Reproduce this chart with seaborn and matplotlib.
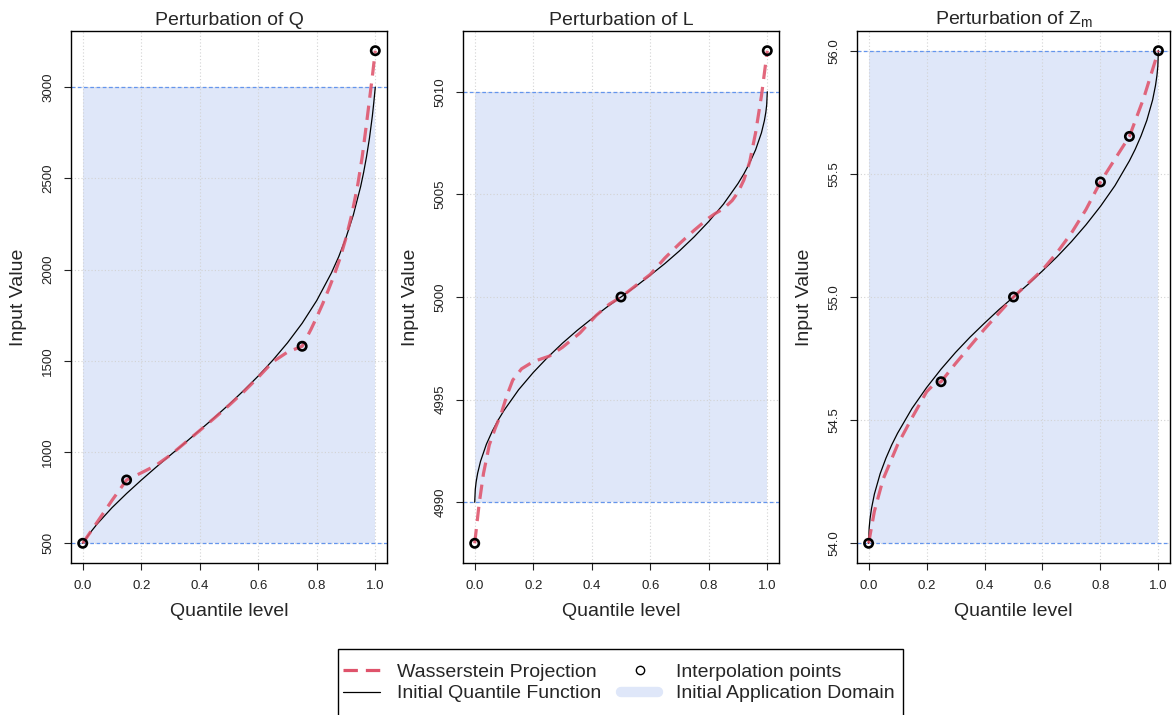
import numpy as np
import seaborn as sns
import matplotlib.pyplot as plt
from matplotlib.lines import Line2D
from matplotlib.patches import Rectangle


# ---- values ----
# Panel Q : initial (truncated) quantile function
Q_levels = [0, 0.025, 0.05, 0.1, 0.15, 0.2, 0.25, 0.3, 0.35, 0.4, 0.45, 0.5, 0.55, 0.6,
            0.65, 0.7, 0.75, 0.8, 0.85, 0.875, 0.9, 0.925, 0.95, 0.96, 0.97, 0.98, 0.99, 0.995, 1.0]
Q_init = [500, 557, 607, 695, 773, 846, 916, 984, 1051, 1120, 1189, 1261, 1337, 1417,
          1504, 1599, 1706, 1831, 1982, 2071, 2176, 2300, 2456, 2532, 2619, 2720, 2843, 2918, 3000]
# Panel Q : Wasserstein projection
Q_proj_levels = [0, 0.05, 0.1, 0.15, 0.2, 0.25, 0.3, 0.35, 0.4, 0.45, 0.5, 0.55, 0.6, 0.65, 0.7,
                 0.75, 0.78, 0.8, 0.82, 0.84, 0.86, 0.88, 0.9, 0.92, 0.94, 0.955, 0.97, 0.98, 0.99, 1.0]
Q_proj = [500, 617, 735, 847, 886, 927, 984, 1051, 1118, 1186, 1256, 1330, 1410, 1495, 1548,
          1580, 1672, 1740, 1812, 1890, 1972, 2065, 2175, 2305, 2465, 2615, 2800, 2930, 3060, 3200]
Q_pts_levels = [0, 0.15, 0.75, 1.0]
Q_pts = [500, 847, 1580, 3200]
Q_domain = [500, 3000]
Q_ticks = [500, 1000, 1500, 2000, 2500, 3000]
Q_ticklabels = ["500", "1000", "1500", "2000", "2500", "3000"]

# Panels L and Zm : initial (triangular) quantile functions
tri_levels = [0, 0.002, 0.005, 0.01, 0.02, 0.04, 0.06, 0.08, 0.1, 0.15, 0.2, 0.25, 0.3, 0.35,
              0.4, 0.45, 0.5, 0.55, 0.6, 0.65, 0.7, 0.75, 0.8, 0.85, 0.9, 0.92, 0.94, 0.96,
              0.98, 0.99, 0.995, 0.998, 1.0]
L_init = [4990, 4990.63, 4991.0, 4991.41, 4992.0, 4992.83, 4993.46, 4994.0, 4994.47, 4995.48,
          4996.32, 4997.07, 4997.75, 4998.37, 4998.94, 4999.49, 5000.0, 5000.51, 5001.06,
          5001.63, 5002.25, 5002.93, 5003.68, 5004.52, 5005.53, 5006.0, 5006.54, 5007.17,
          5008.0, 5008.59, 5009.0, 5009.37, 5010.0]
Zm_init = [54.0, 54.063, 54.1, 54.141, 54.2, 54.283, 54.346, 54.4, 54.447, 54.548, 54.632,
           54.707, 54.775, 54.837, 54.894, 54.949, 55.0, 55.051, 55.106, 55.163, 55.225,
           55.293, 55.368, 55.452, 55.553, 55.6, 55.654, 55.717, 55.8, 55.859, 55.9, 55.937, 56.0]

L_proj_levels = [0, 0.015, 0.03, 0.05, 0.07, 0.09, 0.11, 0.13, 0.16, 0.2, 0.255, 0.3, 0.36,
                 0.415, 0.46, 0.5, 0.55, 0.6, 0.65, 0.7, 0.75, 0.8, 0.82, 0.85, 0.88, 0.9,
                 0.92, 0.94, 0.96, 0.98, 0.99, 1.0]
L_proj = [4988.0, 4989.9, 4991.4, 4992.8, 4993.6, 4994.3, 4995.2, 4995.95, 4996.5, 4996.85,
          4997.12, 4997.55, 4998.25, 4999.1, 4999.65, 5000.0, 5000.55, 5001.1, 5001.9, 5002.6,
          5003.25, 5003.85, 5004.05, 5004.3, 5004.7, 5005.1, 5005.7, 5006.6, 5008.0, 5009.8,
          5010.9, 5012.0]
L_pts_levels = [0, 0.5, 1.0]
L_pts = [4988, 5000, 5012]
L_domain = [4990, 5010]
L_ticks = [4990, 4995, 5000, 5005, 5010]
L_ticklabels = ["4990", "4995", "5000", "5005", "5010"]

Zm_proj_levels = [0, 0.02, 0.05, 0.1, 0.15, 0.2, 0.225, 0.25, 0.3, 0.35, 0.4, 0.45, 0.5, 0.55,
                  0.6, 0.65, 0.7, 0.75, 0.8, 0.85, 0.9, 0.95, 1.0]
Zm_proj = [54.0, 54.13, 54.26, 54.40, 54.51, 54.615, 54.645, 54.656, 54.73, 54.80, 54.87,
           54.935, 55.0, 55.055, 55.11, 55.18, 55.26, 55.355, 55.467, 55.56, 55.652, 55.81, 56.0]
Zm_pts_levels = [0, 0.25, 0.5, 0.8, 0.9, 1.0]
Zm_pts = [54.0, 54.656, 55.0, 55.467, 55.652, 56.0]
Zm_domain = [54, 56]
Zm_ticks = [54.0, 54.5, 55.0, 55.5, 56.0]
Zm_ticklabels = ["54.0", "54.5", "55.0", "55.5", "56.0"]

x_ticks = [0, 0.2, 0.4, 0.6, 0.8, 1.0]
x_ticklabels = ["0.0", "0.2", "0.4", "0.6", "0.8", "1.0"]

titles = ["Perturbation of Q", "Perturbation of L", r"Perturbation of Z$_\mathregular{m}$"]
legend_labels = ["Wasserstein Projection", "Initial Quantile Function",
                 "Interpolation points", "Initial Application Domain"]

RED = "#DF536B"
FILL = "#DFE7F9"
ABLINE = "#6495ED"
GRID = "#D3D3D3"

sns.set_style("ticks")
plt.rcParams['font.family'] = ['Liberation Sans', 'DejaVu Sans']

W, H = 1172, 715
fig = plt.figure(figsize=(W / 100, H / 100), dpi=100)

# axes boxes in pixels: (left, width)
boxes = [(71, 316), (463, 316), (857, 313)]
ax_top, ax_bot = 31, 563

panels = [
    (Q_levels, Q_init, Q_proj_levels, Q_proj, Q_pts_levels, Q_pts, Q_domain, Q_ticks, Q_ticklabels),
    (tri_levels, L_init, L_proj_levels, L_proj, L_pts_levels, L_pts, L_domain, L_ticks, L_ticklabels),
    (tri_levels, Zm_init, Zm_proj_levels, Zm_proj, Zm_pts_levels, Zm_pts, Zm_domain, Zm_ticks, Zm_ticklabels),
]

for i, (lev, init, plev, proj, ptlev, pts, dom, yt, ytl) in enumerate(panels):
    left, width = boxes[i]
    ax = fig.add_axes([left / W, (H - ax_bot) / H, width / W, (ax_bot - ax_top) / H])

    # initial application domain
    ax.fill_between([0, 1], dom[0], dom[1], color=FILL, lw=0, zorder=1)
    for v in dom:
        ax.axhline(v, color=ABLINE, lw=0.9, linestyle=(0, (3, 2)), zorder=1.6)

    sns.lineplot(x=lev, y=init, ax=ax, color="black", lw=0.9,
                 estimator=None, sort=False, zorder=3)
    sns.lineplot(x=plev, y=proj, ax=ax, color=RED, alpha=0.88, lw=2.3,
                 linestyle=(0, (4.5, 2.5)), estimator=None, sort=False, zorder=3.5)
    sns.scatterplot(x=ptlev, y=pts, ax=ax, s=36, marker="o", facecolors="none",
                    edgecolors="black", linewidths=1.9, zorder=4)

    # R-like limits (4% padding)
    ymin, ymax = min(pts + [dom[0]]), max(pts + [dom[1]])
    pad = 0.04 * (ymax - ymin)
    ax.set_xlim(-0.04, 1.04)
    ax.set_ylim(ymin - pad, ymax + pad)

    ax.set_xticks(x_ticks)
    ax.set_xticklabels(x_ticklabels)
    ax.set_yticks(yt)
    ax.set_yticklabels(ytl, rotation=90, va="center")

    ax.grid(True, color=GRID, linestyle=(0, (1, 2)), lw=0.8)
    ax.set_axisbelow("line")

    ax.tick_params(direction="out", length=5, width=0.8, labelsize=9.5, colors="#222222",
                   bottom=True, left=True)
    ax.tick_params(axis="x", pad=7)
    ax.tick_params(axis="y", pad=7)
    for s in ax.spines.values():
        s.set_visible(True)
        s.set_color("black")
        s.set_linewidth(1.0)

    ax.set_title(titles[i], fontsize=14, pad=4.5)
    ax.set_xlabel("Quantile level", fontsize=14)
    ax.set_ylabel("Input Value", fontsize=14)
    ax.xaxis.set_label_coords(0.5, -(603 - ax_bot) / (ax_bot - ax_top))
    ax.yaxis.set_label_coords(-44 / width, 0.5)

# legend
handles = [
    Line2D([], [], color=RED, lw=2.3, linestyle=(0, (4.5, 2.5))),
    Line2D([], [], color="black", lw=0.9),
    Line2D([], [], linestyle="none", marker="o", mfc="none", mec="black", ms=6, mew=1),
    Line2D([], [], color=FILL, lw=7.5, solid_capstyle="round"),
]
fig.legend(handles, legend_labels, ncol=2, loc="upper left",
           bbox_to_anchor=(343 / W, 1 - 663 / H), frameon=False, fontsize=14,
           handlelength=1.9, handletextpad=0.9, columnspacing=1.0, labelspacing=0.22,
           borderpad=0, borderaxespad=0)
fig.add_artist(Rectangle((338 / W, -0.1), (903 - 338) / W, 0.1 + (H - 649) / H,
                         transform=fig.transFigure, fill=False, edgecolor="black", lw=1.0))

fig.savefig("out.png", dpi=100)
